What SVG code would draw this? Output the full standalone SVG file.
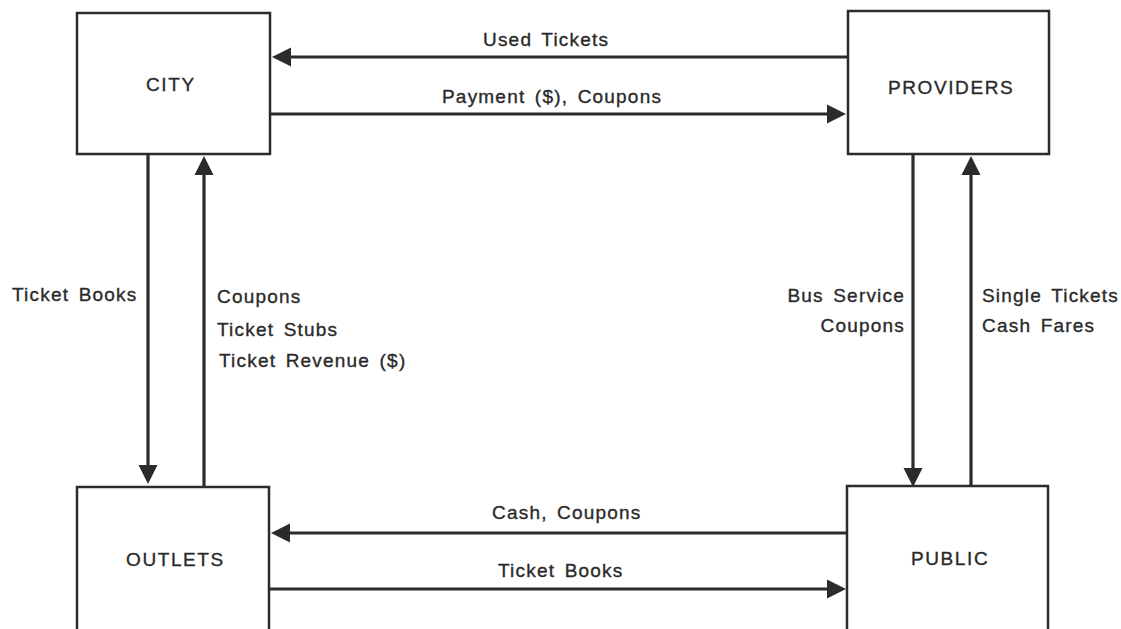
<svg xmlns="http://www.w3.org/2000/svg" width="1121" height="629" viewBox="0 0 1121 629">
  <defs>
    <marker id="arrow" markerUnits="userSpaceOnUse" markerWidth="19" markerHeight="19" refX="14" refY="9.5" orient="auto" overflow="visible">
      <path d="M0,0 L19,9.5 L0,19 Z" fill="#2b2b2b"/>
    </marker>
    <style>
      .box { fill: #ffffff; stroke: #2b2b2b; stroke-width: 2.5; }
      .flow { fill: none; stroke: #2b2b2b; stroke-width: 3.2; marker-end: url(#arrow); }
      text { font-family: "Liberation Sans", Arial, sans-serif; font-size: 19px; fill: #2a2a2a; stroke: #2a2a2a; stroke-width: 0.35; letter-spacing: 1.2px; word-spacing: 3px; }
      .end { text-anchor: end; }
    </style>
  </defs>

  <rect width="1121" height="629" fill="#ffffff"/>

  <!-- flows between the four parties -->
  <g id="connectors">
    <line class="flow" x1="848" y1="57" x2="277" y2="57"/>
    <line class="flow" x1="270" y1="114" x2="841" y2="114"/>
    <line class="flow" x1="847" y1="533" x2="276" y2="533"/>
    <line class="flow" x1="269" y1="589" x2="841" y2="589"/>
    <line class="flow" x1="148" y1="154" x2="148" y2="479"/>
    <line class="flow" x1="204" y1="487" x2="204" y2="161"/>
    <line class="flow" x1="913" y1="154" x2="913" y2="482"/>
    <line class="flow" x1="971" y1="486" x2="971" y2="161"/>

    <text x="483" y="46">Used  Tickets</text>
    <text x="442" y="103">Payment ($),  Coupons</text>
    <text x="492" y="519">Cash,  Coupons</text>
    <text x="498" y="577">Ticket  Books</text>

    <text x="12" y="301">Ticket  Books</text>
    <text x="217" y="303">Coupons</text>
    <text x="217" y="336">Ticket  Stubs</text>
    <text x="219" y="367">Ticket  Revenue ($)</text>

    <text class="end" x="905" y="302">Bus  Service</text>
    <text class="end" x="905" y="332">Coupons</text>
    <text x="982" y="302">Single  Tickets</text>
    <text x="982" y="332">Cash  Fares</text>
  </g>

  <g id="city">
    <rect class="box" x="77" y="13" width="193" height="141"/>
    <text x="146" y="91" style="letter-spacing:1.6px">CITY</text>
  </g>

  <g id="providers">
    <rect class="box" x="848" y="11" width="201" height="143"/>
    <text x="888" y="94" style="letter-spacing:1.6px">PROVIDERS</text>
  </g>

  <g id="outlets">
    <rect class="box" x="77" y="487" width="192" height="160"/>
    <text x="126" y="566" style="letter-spacing:1.6px">OUTLETS</text>
  </g>

  <g id="public">
    <rect class="box" x="847" y="486" width="201" height="160"/>
    <text x="911" y="565" style="letter-spacing:1.6px">PUBLIC</text>
  </g>
</svg>
